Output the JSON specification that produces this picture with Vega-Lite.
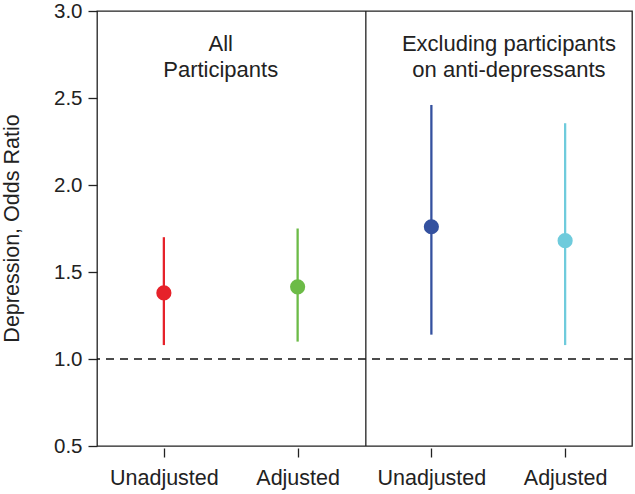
{
  "$schema": "https://vega.github.io/schema/vega-lite/v6.json",
  "width": 535,
  "height": 435,
  "autosize": {"type": "none"},
  "padding": {"left": 97, "top": 11, "right": 3, "bottom": 48},
  "config": {
    "view": {"stroke": "#222", "strokeWidth": 1.3},
    "font": "Liberation Sans",
    "axis": {"grid": false, "domain": false, "tickColor": "#222", "labelColor": "#222", "titleColor": "#222", "tickWidth": 1.3}
  },
  "datasets": {
    "est": [
      {"pos": 1, "group": "All, Unadjusted", "or": 1.38, "lo": 1.08, "hi": 1.70},
      {"pos": 2, "group": "All, Adjusted", "or": 1.415, "lo": 1.10, "hi": 1.75},
      {"pos": 3, "group": "Excl, Unadjusted", "or": 1.76, "lo": 1.14, "hi": 2.46},
      {"pos": 4, "group": "Excl, Adjusted", "or": 1.68, "lo": 1.08, "hi": 2.355}
    ],
    "notes": [
      {"x": 1.425, "y": 2.772, "label": "All\nParticipants"},
      {"x": 3.58, "y": 2.772, "label": "Excluding participants\non anti-depressants"}
    ]
  },
  "layer": [
    {
      "data": {"values": [{"ref": 1.0}]},
      "mark": {"type": "rule", "color": "#111", "strokeWidth": 1.5, "strokeDash": [8, 6]},
      "encoding": {"y": {"field": "ref", "type": "quantitative"}}
    },
    {
      "data": {"values": [{"sep": 2.51}]},
      "mark": {"type": "rule", "color": "#222", "strokeWidth": 1.3},
      "encoding": {"x": {"field": "sep", "type": "quantitative"}}
    },
    {
      "data": {"name": "est"},
      "mark": {"type": "rule", "strokeWidth": 2.3},
      "encoding": {
        "x": {"field": "pos", "type": "quantitative"},
        "y": {"field": "lo", "type": "quantitative"},
        "y2": {"field": "hi"},
        "color": {"field": "group", "type": "nominal", "legend": null,
          "scale": {"domain": ["All, Unadjusted", "All, Adjusted", "Excl, Unadjusted", "Excl, Adjusted"],
                    "range": ["#e6222a", "#6cbb47", "#34519f", "#6fcbdc"]}}
      }
    },
    {
      "data": {"name": "est"},
      "mark": {"type": "circle", "size": 230, "opacity": 1},
      "encoding": {
        "x": {"field": "pos", "type": "quantitative",
          "scale": {"domain": [0.5, 4.5], "nice": false, "zero": false},
          "axis": {"title": null, "values": [1, 2, 3, 4], "offset": 2, "tickSize": 9, "labelPadding": 10, "labelFontSize": 21.5,
            "labelExpr": "['', 'Unadjusted', 'Adjusted', 'Unadjusted', 'Adjusted'][datum.value]"}},
        "y": {"field": "or", "type": "quantitative",
          "scale": {"domain": [0.5, 3.0], "nice": false, "zero": false},
          "axis": {"title": "Depression, Odds Ratio", "values": [0.5, 1.0, 1.5, 2.0, 2.5, 3.0], "format": ".1f",
            "tickSize": 9, "labelPadding": 6, "labelFontSize": 20.5, "titleFontSize": 21.5, "titleFontWeight": "normal",
            "titleX": -85, "titleY": 217, "titleBaseline": "middle", "titleAngle": 270}},
        "color": {"field": "group", "type": "nominal", "legend": null}
      }
    },
    {
      "data": {"name": "notes"},
      "mark": {"type": "text", "fontSize": 22, "align": "center", "baseline": "alphabetic", "lineBreak": "\n", "lineHeight": 26.5, "color": "#222"},
      "encoding": {
        "x": {"field": "x", "type": "quantitative"},
        "y": {"field": "y", "type": "quantitative"},
        "text": {"field": "label", "type": "nominal"}
      }
    }
  ]
}
